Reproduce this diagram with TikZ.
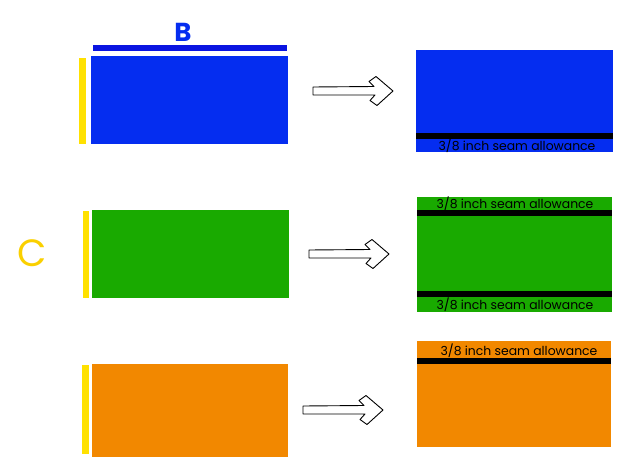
\documentclass[tikz,border=0pt]{standalone}
\usepackage{fontspec}
\setmainfont{Poppins}
\usetikzlibrary{positioning}

\definecolor{fabricblue}{RGB}{5,45,240}
\definecolor{stripblue}{RGB}{10,20,225}
\definecolor{fabricgreen}{RGB}{25,170,0}
\definecolor{fabricorange}{RGB}{242,136,0}
\definecolor{edgeyellow}{RGB}{255,225,0}
\definecolor{labelyellow}{RGB}{250,208,0}

\tikzset{
  seamtext/.style={font=\fontsize{12.4}{14}\selectfont, inner sep=0pt, text=black},
  sidelabel/.style={inner sep=0pt},
  pics/handarrow/.style={code={
    \draw[line width=0.9pt, line join=round, fill=white]
      (0,-4) -- (61,-4.5) -- (56,-9.5) -- (63,-14.5) -- (80,0)
      -- (64,14.5) -- (57,9.5) -- (62,4) -- (0,4) -- cycle;
  }}
}

\begin{document}
\begin{tikzpicture}[x=1pt,y=-1pt]
\useasboundingbox (0,0) rectangle (640,476);

% top row
\fill[stripblue] (93,45) rectangle (287,51);
\fill[fabricblue] (91,56) rectangle (288,144);
\fill[edgeyellow] (79,58) rectangle (86,144);
\node[sidelabel, text=fabricblue, font=\fontsize{26}{28}\selectfont\bfseries] (labelB) at (183,32) {B};

\coordinate (arrowA) at (313,91);
\pic at (arrowA) {handarrow};

\fill[fabricblue] (416,50) rectangle (613,152);
\fill[black] (416,133) rectangle (613,139);
\node[seamtext] (seamA) at (517,146) {3/8 inch seam allowance};

% middle row
\node[sidelabel, text=labelyellow, font=\fontsize{38}{40}\selectfont] (labelC) at (32,253) {C};
\fill[edgeyellow] (83,211) rectangle (89,298);
\fill[fabricgreen] (92,210) rectangle (289,298);

\coordinate (arrowB) at (309,254);
\pic at (arrowB) {handarrow};

\fill[fabricgreen] (417,197) rectangle (612,312);
\fill[black] (417,210) rectangle (612,216);
\fill[black] (417,291) rectangle (612,297);
\node[seamtext] (seamB) at (515,203.5) {3/8 inch seam allowance};
\node[seamtext] (seamC) at (515,304.5) {3/8 inch seam allowance};

% bottom row
\fill[edgeyellow] (82,365) rectangle (89,454);
\fill[fabricorange] (92,364) rectangle (288,457);

\coordinate (arrowC) at (303,410);
\pic at (arrowC) {handarrow};

\fill[fabricorange] (417,341) rectangle (611,447);
\fill[black] (417,358) rectangle (611,364);
\node[seamtext] (seamD) at (519,350.5) {3/8 inch seam allowance};
\end{tikzpicture}
\end{document}
